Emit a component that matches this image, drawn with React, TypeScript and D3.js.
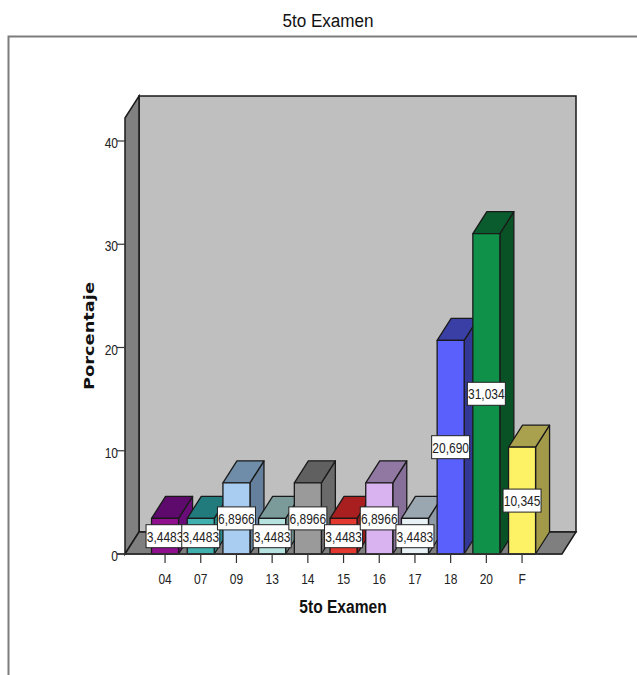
import React from "react";
import * as d3 from "d3";

const categories = ["04", "07", "09", "13", "14", "15", "16", "17", "18", "20", "F"];
const values = [3.4483, 3.4483, 6.8966, 3.4483, 6.8966, 3.4483, 6.8966, 3.4483, 20.69, 31.034, 10.345];
const valueLabels = ["3,4483", "3,4483", "6,8966", "3,4483", "6,8966", "3,4483", "6,8966", "3,4483", "20,690", "31,034", "10,345"];
const frontColors = ["#8f0f8f", "#3fb0ae", "#a9cdf0", "#b6e3df", "#9a9a9a", "#e2382f", "#d9b3ef", "#e8f2f6", "#5a60fb", "#0f914a", "#fdf265"];
const topColors = ["#5d0a6c", "#217b7d", "#6f8ca9", "#7b9b9b", "#606060", "#a91f20", "#9078a2", "#9aa6b0", "#3a3fa6", "#0a5c2e", "#a9a14d"];
const sideColors = ["#6a0c78", "#2a8a8c", "#64809c", "#6f8d8d", "#6a6a6a", "#951c1c", "#86709a", "#8e9aa4", "#333896", "#095226", "#a29a48"];
const yTicks = [0, 10, 20, 30, 40];

const sans = "'Liberation Sans', Arial, sans-serif";
const DX = 14;
const DY = -22;
const LINE = "#1a1a1a";

// Horizontally condensed text, to stand in for the reference's narrow face.
function Narrow({ x, y, sx = 0.8, anchor = "middle", size = 14, bold = false, fill = "#222", children }: any) {
  return (
    <text
      transform={`translate(${x},${y}) scale(${sx},1)`}
      textAnchor={anchor}
      fontFamily={sans}
      fontSize={size}
      fontWeight={bold ? "bold" : "normal"}
      fill={fill}
    >
      {children}
    </text>
  );
}

export default function App() {
  const y = d3.scaleLinear().domain([0, 40]).range([554, 141]);
  const x = d3.scaleBand<string>().domain(categories).range([147.2, 539.9]).paddingInner(0.243).paddingOuter(0.1215);
  const y0 = y(0);
  const wallTop = 118;
  const wallLeft = 125;
  const floorRight = 562;
  const poly = (pts: number[][]) => d3.line()(pts as [number, number][]) + "Z";
  const bw = x.bandwidth();

  return (
    <svg width={637} height={675} style={{ position: "absolute", left: 0, top: 0, background: "#fff" }}>
      <Narrow x={328} y={27} sx={0.9} size={19} fill="#111">5to Examen</Narrow>
      <path d="M8.5 675V36.5H637" fill="none" stroke="#7c7c7c" strokeWidth={2} />

      {/* walls and floor */}
      <path d={poly([[wallLeft + DX, wallTop + DY], [floorRight + DX, wallTop + DY], [floorRight + DX, y0 + DY], [wallLeft + DX, y0 + DY]])} fill="#bfbfbf" stroke={LINE} strokeWidth={1.5} />
      <path d={poly([[wallLeft, wallTop], [wallLeft + DX, wallTop + DY], [wallLeft + DX, y0 + DY], [wallLeft, y0]])} fill="#808080" stroke={LINE} strokeWidth={1.5} />
      <path d={poly([[wallLeft, y0], [wallLeft + DX, y0 + DY], [floorRight + DX, y0 + DY], [floorRight, y0]])} fill="#7f7f7f" stroke={LINE} strokeWidth={1.5} />

      {/* y axis */}
      {yTicks.map((t) => (
        <g key={t}>
          <line x1={117} x2={wallLeft} y1={y(t)} y2={y(t)} stroke="#333" strokeWidth={1.2} />
          <Narrow x={118} y={y(t) + 7} anchor="end" size={15}>{t}</Narrow>
        </g>
      ))}
      <text transform="translate(94,336) rotate(-90)" textAnchor="middle" fontFamily="'DejaVu Sans', sans-serif" fontWeight="bold" fontSize={14} textLength={108} lengthAdjust="spacingAndGlyphs" fill="#111">Porcentaje</text>

      {/* bars */}
      {categories.map((c, i) => {
        const l = x(c)!;
        const r = l + bw;
        const t = y(values[i]);
        return (
          <g key={c} stroke={LINE} strokeWidth={1.3} strokeLinejoin="round">
            <path d={poly([[r, t], [r + DX, t + DY], [r + DX, y0 + DY], [r, y0]])} fill={sideColors[i]} />
            <path d={poly([[l, t], [l + DX, t + DY], [r + DX, t + DY], [r, t]])} fill={topColors[i]} />
            <path d={poly([[l, t], [r, t], [r, y0], [l, y0]])} fill={frontColors[i]} />
          </g>
        );
      })}
      <line x1={117} x2={floorRight} y1={y0} y2={y0} stroke="#333" strokeWidth={1.5} />

      {/* x axis */}
      {categories.map((c) => {
        const cx = x(c)! + bw / 2;
        return (
          <g key={c}>
            <line x1={cx} x2={cx} y1={y0} y2={y0 + 9} stroke="#333" strokeWidth={1.2} />
            <Narrow x={cx} y={y0 + 30} size={15}>{c}</Narrow>
          </g>
        );
      })}
      <Narrow x={343} y={613} sx={0.82} size={19} bold fill="#111">5to Examen</Narrow>

      {/* value labels */}
      {categories.map((c, i) => {
        const cx = x(c)! + bw / 2;
        const cy = (y(values[i]) + y0) / 2;
        return (
          <g key={c + "-label"}>
            <rect x={cx - 19} y={cy - 11.5} width={38} height={23} fill="#fff" stroke="#222" strokeWidth={1} />
            <Narrow x={cx} y={cy + 5.5} sx={0.8} size={15}>{valueLabels[i]}</Narrow>
          </g>
        );
      })}
    </svg>
  );
}
